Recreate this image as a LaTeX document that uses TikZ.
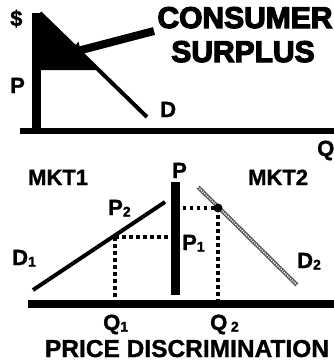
\documentclass[tikz,border=0pt]{standalone}
\usepackage{fontspec}
\setmainfont{Liberation Sans}[BoldFeatures={FakeBold=1.2}]
\newfontfamily\heavyfont[FakeBold=4]{Liberation Sans Bold}
\usepackage{tikz}
\usetikzlibrary{arrows.meta, positioning, calc}
\usepackage{xcolor}
\definecolor{ink}{HTML}{000000}
\definecolor{hatch}{HTML}{555555}
\newcommand{\lowidx}[1]{\raisebox{-1.5pt}{\fontsize{14}{14}\selectfont #1}}
\tikzset{
  lbl/.style={inner sep=0pt, anchor=base west,
              font=\fontsize{22}{22}\selectfont\bfseries},
  title/.style={inner sep=0pt, anchor=base,
                font=\fontsize{30}{30}\selectfont\heavyfont},
  axisbar/.style={line width=6pt, draw=ink},
  pricebar/.style={line width=9pt, draw=ink},
  demand/.style={line width=4pt, draw=ink},
  guide/.style={line width=3.5pt, draw=ink, dash pattern=on 3.5pt off 3.5pt},
  pointer/.style={-{Triangle[length=11pt, width=17pt]}, line width=8pt, draw=ink},
}

\begin{document}
\begin{tikzpicture}[x=1pt, y=-1pt]
  \useasboundingbox (0,0) rectangle (334,364);

  % upper graph: demand and consumer surplus
  \coordinate (ytop) at (36.5,13);
  \coordinate (ybot) at (36.5,128);
  \coordinate (xl) at (20,130.5);
  \coordinate (xr) at (334,130.5);
  \coordinate (dtop) at (40,13);
  \coordinate (dpt) at (99,70);
  \coordinate (pax) at (40,70);
  \coordinate (dend) at (147,117);

  \fill [ink] (dtop) -- (dpt) -- (pax) -- cycle;
  \draw [pricebar] (ytop) -- (ybot);
  \draw [axisbar] (xl) -- (xr);
  \draw [demand] (dtop) -- (dend);

  \node [lbl] (dollar) at (10,26) {\$};
  \node [lbl] (ptop) at (10,93) {P};
  \node [lbl] (dlab) at (160,117) {D};
  \node [title] (cons) at (245,28) {CONSUMER};
  \node [title] (surp) at (243,62) {SURPLUS};

  \coordinate (atail) at (154,31);
  \coordinate (ahead) at (70,53);
  \draw [pointer] (atail) -- (ahead);

  % lower graph: two markets
  \coordinate (mtop) at (175.5,182);
  \coordinate (mbot) at (175.5,295);
  \coordinate (bl) at (28,304);
  \coordinate (br) at (334,304);
  \coordinate (d1a) at (33,290);
  \coordinate (d1b) at (165,202);
  \coordinate (d2a) at (198,187);
  \coordinate (d2b) at (297,285);
  \coordinate (e1) at (115,237);
  \coordinate (e2) at (218,208);

  \draw [pricebar] (mtop) -- (mbot);
  \draw [axisbar, line width=8pt] (bl) -- (br);
  \draw [demand] (d1a) -- (d1b);
  \draw [line width=4pt, draw=hatch] (d2a) -- (d2b);
  \draw [line width=1.5pt, draw=white, dash pattern=on 1pt off 1.2pt] (d2a) -- (d2b);

  \draw [guide] (e1) -- (e1 -| mtop);
  \draw [guide] (e1) -- (e1 |- bl);
  \draw [guide] (e2 -| mtop) -- (e2);
  \draw [guide] (e2) -- (e2 |- bl);
  \fill [ink] (e2) circle (4.5);

  \node [lbl] (qlab) at (317,156) {Q};
  \node [lbl] (mkta) at (28,185) {MKT1};
  \node [lbl] (pmid) at (172,178) {P};
  \node [lbl] (mktb) at (248,185) {MKT2};
  \node [lbl] (ptwo) at (108,215) {P\lowidx{2}};
  \node [lbl] (pone) at (182,250) {P\lowidx{1}};
  \node [lbl] (done) at (12,265) {D\lowidx{1}};
  \node [lbl] (dtwo) at (297,268) {D\lowidx{2}};
  \node [lbl] (qone) at (103,330) {Q\lowidx{1}};
  \node [lbl] (qtwo) at (210,330) {Q\,\lowidx{2}};
  \node [title, font=\fontsize{24.5}{24.5}\selectfont\bfseries] (cap) at (187,357) {PRICE DISCRIMINATION};
\end{tikzpicture}
\end{document}
